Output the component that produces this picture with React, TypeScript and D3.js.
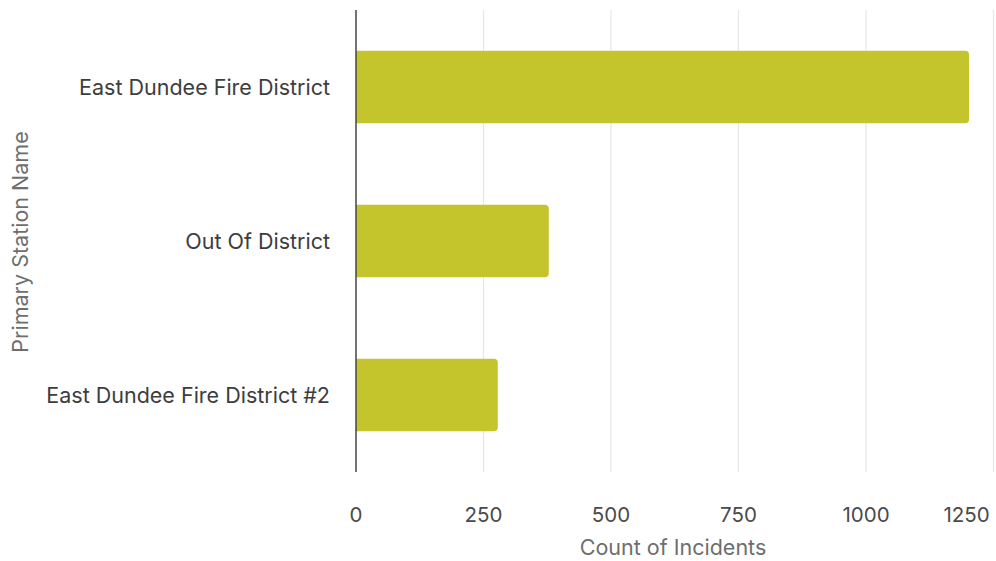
import React from "react";
import * as d3 from "d3";

const categories = ["East Dundee Fire District", "Out Of District", "East Dundee Fire District #2"];
const values = [1202, 378, 278];
const ticks = [0, 250, 500, 750, 1000, 1250];

export default function App() {
  const W = 996, H = 561;
  const x0 = 356, x1 = 993.5, yTop = 10, yBot = 472;
  const x = d3.scaleLinear().domain([0, 1250]).range([x0, x1]);
  const y = d3.scaleBand().domain(categories).range([yTop, yBot]).paddingInner(0.53).paddingOuter(0.265);
  const font = "Inter, 'Open Sans', sans-serif";
  const r = 4;
  return (
    <svg width={W} height={H} style={{ position: "absolute", left: 0, top: 0 }} fontFamily={font}>
      <rect width={W} height={H} fill="#fff" />
      {ticks.slice(1).map((t) => (
        <line key={t} x1={x(t)} x2={x(t)} y1={yTop} y2={yBot} stroke="#e6e6e6" strokeWidth={1.2} />
      ))}
      {categories.map((c, i) => {
        const bx = x(0), by = y(c)!, bw = x(values[i]) - x(0), bh = y.bandwidth();
        const p = `M${bx},${by}H${bx + bw - r}Q${bx + bw},${by} ${bx + bw},${by + r}V${by + bh - r}Q${bx + bw},${by + bh} ${bx + bw - r},${by + bh}H${bx}Z`;
        return <path key={c} d={p} fill="#c4c42d" />;
      })}
      <line x1={x0} x2={x0} y1={yTop} y2={yBot} stroke="#444" strokeWidth={1.5} />
      {categories.map((c) => (
        <text key={c} x={330} y={y(c)! + y.bandwidth() / 2} dy="0.35em" textAnchor="end" fontSize={21.5} fill="#3d3d3d">{c}</text>
      ))}
      {ticks.map((t, i) => (
        <text key={t} x={i === ticks.length - 1 ? x(t) - 27 : x(t)} y={515} dy="0.35em" textAnchor="middle" fontSize={20.5} fill="#4a4a4a">{t}</text>
      ))}
      <text x={673} y={547} dy="0.35em" textAnchor="middle" fontSize={21.5} fill="#6e6e6e">Count of Incidents</text>
      <text transform={`translate(20,242) rotate(-90)`} dy="0.35em" textAnchor="middle" fontSize={21.5} fill="#6e6e6e">Primary Station Name</text>
    </svg>
  );
}
